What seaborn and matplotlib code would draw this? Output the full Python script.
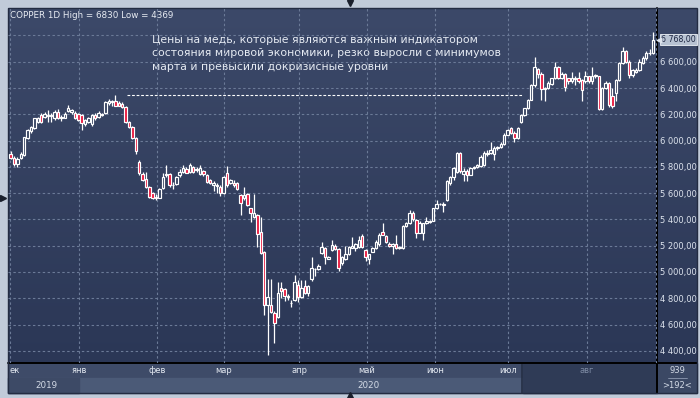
import numpy as np
import pandas as pd
import matplotlib
matplotlib.use("Agg")
import matplotlib.pyplot as plt
import matplotlib.transforms as mtransforms
from matplotlib.colors import LinearSegmentedColormap
from matplotlib.patches import Rectangle
import seaborn as sns

# daily candles, Dec 2019 .. Aug 2020
opens = [5900, 5870, 5820, 5870, 5890, 6020, 6070, 6095, 6140, 6195,
         6180, 6185, 6185, 6170, 6220, 6170, 6175, 6225, 6215, 6210,
         6200, 6195, 6125, 6140, 6125, 6195, 6180, 6195, 6210, 6285,
         6295, 6300, 6285, 6280, 6255, 6140, 6100, 6020, 5835, 5745,
         5705, 5645, 5600, 5570, 5565, 5640, 5735, 5745, 5660, 5670,
         5735, 5760, 5785, 5760, 5800, 5775, 5745, 5765, 5735, 5700,
         5665, 5665, 5650, 5600, 5750, 5680, 5680, 5675, 5585, 5560,
         5590, 5485, 5420, 5430, 5305, 5150, 4750, 4750, 4685, 4655,
         4880, 4870, 4810, 4760, 4785, 4900, 4810, 4895, 4840, 4945,
         5020, 5025, 5145, 5180, 5100, 5165, 5195, 5175, 5070, 5100,
         5140, 5185, 5185, 5190, 5270, 5165, 5100, 5155, 5180, 5210,
         5305, 5270, 5215, 5200, 5215, 5180, 5180, 5350, 5370, 5450,
         5395, 5300, 5300, 5370, 5380, 5390, 5485, 5515, 5520, 5545,
         5675, 5720, 5760, 5905, 5745, 5770, 5740, 5790, 5800, 5805,
         5815, 5895, 5905, 5895, 5940, 5950, 5975, 6045, 6095, 6060,
         6020, 6140, 6195, 6245, 6310, 6420, 6545, 6510, 6390, 6400,
         6430, 6475, 6560, 6475, 6510, 6475, 6450, 6470, 6475, 6460,
         6450, 6490, 6450, 6495, 6490, 6240, 6400, 6440, 6340, 6360,
         6460, 6590, 6680, 6600, 6500, 6525, 6540, 6590, 6625, 6665,
         6670]
highs = [5920, 5880, 5875, 5910, 6030, 6090, 6110, 6175, 6180, 6210,
         6215, 6230, 6210, 6235, 6240, 6195, 6215, 6270, 6240, 6225,
         6210, 6200, 6165, 6180, 6205, 6210, 6225, 6210, 6300, 6320,
         6310, 6345, 6300, 6290, 6265, 6150, 6110, 6030, 5850, 5760,
         5760, 5655, 5610, 5590, 5640, 5750, 5815, 5755, 5685, 5730,
         5780, 5815, 5800, 5830, 5810, 5800, 5815, 5775, 5745, 5710,
         5690, 5675, 5660, 5730, 5810, 5710, 5700, 5685, 5590, 5650,
         5600, 5490, 5590, 5440, 5420, 5160, 4945, 4945, 4700, 4925,
         4920, 4880, 4830, 4790, 4975, 4940, 4940, 4940, 4900, 5115,
         5030, 5060, 5230, 5190, 5120, 5245, 5210, 5180, 5120, 5200,
         5195, 5265, 5220, 5275, 5290, 5175, 5140, 5190, 5240, 5295,
         5370, 5280, 5225, 5220, 5280, 5195, 5355, 5380, 5470, 5465,
         5400, 5385, 5375, 5420, 5395, 5490, 5550, 5525, 5530, 5700,
         5730, 5800, 5910, 5910, 5790, 5780, 5800, 5810, 5825, 5890,
         5920, 5930, 5990, 5955, 5960, 5990, 6055, 6090, 6100, 6075,
         6100, 6205, 6250, 6320, 6430, 6635, 6555, 6520, 6410, 6450,
         6480, 6600, 6570, 6520, 6515, 6480, 6520, 6490, 6520, 6470,
         6530, 6495, 6560, 6510, 6495, 6410, 6450, 6445, 6400, 6470,
         6600, 6710, 6690, 6610, 6545, 6550, 6620, 6640, 6680, 6700,
         6830]
lows = [5860, 5810, 5800, 5860, 5880, 6010, 6060, 6090, 6130, 6130,
        6175, 6140, 6140, 6160, 6165, 6150, 6170, 6215, 6205, 6165,
        6150, 6080, 6110, 6130, 6110, 6160, 6170, 6190, 6205, 6270,
        6260, 6260, 6260, 6250, 6135, 6095, 6015, 5900, 5740, 5690,
        5640, 5565, 5555, 5545, 5560, 5630, 5720, 5650, 5630, 5660,
        5725, 5750, 5750, 5750, 5750, 5760, 5740, 5730, 5680, 5670,
        5615, 5600, 5575, 5595, 5650, 5670, 5650, 5625, 5430, 5550,
        5500, 5380, 5410, 5190, 5140, 4670, 4369, 4690, 4460, 4650,
        4800, 4780, 4790, 4735, 4780, 4770, 4800, 4830, 4820, 4930,
        4970, 5015, 5135, 5060, 5095, 5160, 5170, 5010, 5050, 5090,
        5130, 5180, 5160, 5185, 5180, 5080, 5060, 5150, 5175, 5200,
        5280, 5220, 5190, 5140, 5175, 5175, 5178, 5340, 5365, 5390,
        5260, 5295, 5240, 5365, 5370, 5385, 5480, 5510, 5460, 5540,
        5660, 5700, 5750, 5750, 5690, 5690, 5735, 5780, 5790, 5800,
        5810, 5880, 5895, 5850, 5930, 5945, 5970, 6040, 6050, 5990,
        6015, 6135, 6190, 6240, 6305, 6410, 6480, 6310, 6300, 6395,
        6420, 6470, 6470, 6465, 6380, 6430, 6440, 6420, 6440, 6300,
        6440, 6440, 6430, 6480, 6235, 6235, 6390, 6255, 6250, 6300,
        6450, 6580, 6590, 6480, 6485, 6515, 6530, 6580, 6615, 6650,
        6660]
closes = [5870, 5820, 5860, 5900, 6025, 6080, 6100, 6170, 6170, 6140,
          6200, 6195, 6195, 6220, 6170, 6180, 6200, 6250, 6230, 6170,
          6160, 6135, 6155, 6170, 6195, 6170, 6210, 6205, 6295, 6300,
          6300, 6265, 6265, 6255, 6140, 6100, 6020, 5920, 5750, 5700,
          5645, 5570, 5560, 5560, 5630, 5720, 5745, 5660, 5665, 5720,
          5760, 5790, 5755, 5815, 5760, 5785, 5790, 5745, 5685, 5680,
          5680, 5655, 5600, 5720, 5660, 5700, 5665, 5630, 5525, 5585,
          5510, 5450, 5450, 5290, 5145, 4750, 4810, 4695, 4610, 4840,
          4855, 4820, 4820, 4765, 4925, 4810, 4880, 4840, 4895, 5030,
          5020, 5045, 5190, 5115, 5115, 5205, 5175, 5030, 5110, 5140,
          5190, 5195, 5210, 5245, 5190, 5110, 5135, 5180, 5225, 5280,
          5280, 5230, 5195, 5215, 5180, 5190, 5350, 5370, 5450, 5400,
          5300, 5370, 5370, 5390, 5390, 5485, 5520, 5520, 5510, 5690,
          5720, 5790, 5905, 5770, 5770, 5740, 5790, 5800, 5815, 5875,
          5905, 5905, 5930, 5945, 5950, 5975, 6045, 6080, 6055, 6020,
          6095, 6195, 6245, 6310, 6420, 6560, 6510, 6390, 6400, 6440,
          6475, 6560, 6475, 6510, 6410, 6450, 6475, 6475, 6450, 6385,
          6490, 6450, 6495, 6500, 6240, 6400, 6440, 6270, 6260, 6460,
          6590, 6680, 6600, 6500, 6535, 6540, 6600, 6625, 6665, 6670,
          6768]

# month ticks (candle index of the first trading day)
month_labels = ["янв", "фев", "мар", "апр", "май", "июн", "июл", "авг"]
month_pos = [20.2, 43.3, 63.1, 85.3, 105.4, 125.5, 147.1, 170.5]
dec_pos, sep_pos = -0.2, 191.0
price_levels = list(range(4400, 6801, 200))

# pre-crisis level marked with a dashed line
resistance_level = 6345
resistance_span = [34.4, 151.3]

note_lines = ["Цены на медь, которые являются важным индикатором",
              "состояния мировой экономики, резко выросли с минимумов",
              "марта и превысили докризисные уровни"]

df = pd.DataFrame({"open": opens, "high": highs, "low": lows, "close": closes})
df["idx"] = np.arange(len(df))
df["up"] = df["close"] >= df["open"]

sns.set_theme(style="dark")
plt.rcParams["font.family"] = ["DejaVu Sans"]

RED = "#e8163c"
HOLLOW = "#34415f"
TXT = "#e4e9f1"
DIM = "#7d8aa3"
FS = 6.0

fig = plt.figure(figsize=(7, 3.98), dpi=100)
fig.patch.set_facecolor("#c1cbd9")

# background layer in pixel coordinates
bg = fig.add_axes([0, 0, 1, 1], zorder=0)
bg.set_xlim(0, 700)
bg.set_ylim(398, 0)
bg.axis("off")

grad = np.linspace(0, 1, 256).reshape(-1, 1)
cmap = LinearSegmentedColormap.from_list("panel", ["#3c4969", "#2b3756"])
bg.imshow(grad, cmap=cmap, extent=(8, 697, 363, 8), aspect="auto", zorder=0)

bg.add_patch(Rectangle((8, 363), 649, 15, color="#3e4b68", zorder=1))
bg.add_patch(Rectangle((8, 378), 649, 15, color="#4b5a77", zorder=1))
bg.add_patch(Rectangle((8, 378), 71, 15, color="#3d4a66", zorder=1))
bg.text(9, 370.5, "ек", color=TXT, fontsize=FS, ha="left", va="center", zorder=2)
bg.text(656, 370.5, "се", color=DIM, fontsize=FS, ha="right", va="center", zorder=2)
bg.add_patch(Rectangle((523, 363), 134, 30, color="#2f3b56", zorder=3))
bg.plot([522, 522], [363, 393], color="#252f45", lw=1.2, zorder=4)
bg.text(587, 370.5, "авг", color=DIM, fontsize=FS, ha="center", va="center", zorder=4)
bg.text(46, 385.5, "2019", color="#d3dae6", fontsize=6.3, ha="center", va="center", zorder=2)
bg.text(369, 385.5, "2020", color="#d3dae6", fontsize=6.3, ha="center", va="center", zorder=2)

bg.add_patch(Rectangle((657, 363), 40, 30, color="#3b4864", zorder=3))
bg.text(677, 370.5, "939", color="#d3dae6", fontsize=FS, ha="center", va="center", zorder=4)
bg.text(677, 385.5, ">192<", color="#d3dae6", fontsize=FS, ha="center", va="center", zorder=4)
bg.plot([668, 687], [377.5, 377.5], color="#8d99b0", lw=0.6, zorder=4)

bg.plot([8, 697], [363, 363], color="black", lw=1.4, zorder=5)
bg.plot([657, 657], [8, 393], color="black", lw=1.4, zorder=5)
bg.add_patch(Rectangle((8, 8), 689, 385, fill=False, ec="#232c42", lw=1.0, zorder=5))

for mx, my, mk in [(3, 198, ">"), (350, 3, "v"), (350, 395, "^")]:
    bg.plot(mx, my, marker=mk, ms=4, color="#1a1f2c", zorder=6)

bg.text(10, 15.5, f"COPPER 1D High = {max(highs)} Low = {min(lows)}",
        color="#e8ecf3", fontsize=6.3, ha="left", va="center", zorder=6)
for k, line in enumerate(note_lines):
    bg.text(152, 40 + 13.5 * k, line, color="#e6ebf3", fontsize=7.8,
            ha="left", va="center", zorder=6)

# price chart
ax = fig.add_axes([8 / 700, 35 / 398, 649 / 700, 355 / 398], zorder=1)
ax.set_facecolor("none")
ax.set_xlim(-0.8, 191.2)
ax.set_ylim(4307, 7009)

ax.set_yticks(price_levels)
ax.set_yticklabels([f"{v:,}".replace(",", " ") + ",00" if v < 6800 else ""
                    for v in price_levels])
ax.yaxis.tick_right()
ax.set_xticks([dec_pos] + month_pos + [sep_pos])
ax.set_xticklabels([""] + month_labels + [""])
ax.tick_params(axis="y", length=0, pad=1.8, labelsize=FS, labelcolor="#dde3ed")
ax.tick_params(axis="x", length=0, pad=2.2, labelsize=FS, labelcolor=TXT)
for lab in ax.get_xticklabels():
    if lab.get_text() == "авг":
        lab.set_visible(False)
ax.grid(True, color="#6b7a97", linestyle=(0, (2.2, 2.2)), linewidth=0.8)
for s in ax.spines.values():
    s.set_visible(False)

ax.vlines(df["idx"], df["low"], df["high"], color="white", lw=0.9, zorder=2)
body_h = (df["close"] - df["open"]).abs().clip(lower=2)
body_b = df[["open", "close"]].min(axis=1)
ax.bar(df["idx"], body_h, bottom=body_b, width=0.72,
       color=np.where(df["up"], HOLLOW, RED), edgecolor="white",
       linewidth=0.85, zorder=3)

res = pd.DataFrame({"x": resistance_span, "y": [resistance_level] * 2})
sns.lineplot(data=res, x="x", y="y", ax=ax, color="white", lw=0.8,
             linestyle=(0, (2.5, 1.6)), zorder=2)
ax.set_xlabel("")
ax.set_ylabel("")

trans = mtransforms.blended_transform_factory(ax.transAxes, ax.transData)
last = closes[-1]
ax.text(1 + 4 / 649, last, f"{last:,}".replace(",", " ") + ",00", transform=trans,
        ha="left", va="center", fontsize=5.7, color="#1d2642", clip_on=False,
        bbox=dict(boxstyle="square,pad=0.12", fc="#b7c2d2", ec="#eef2f7", lw=0.6),
        zorder=6)
ax.plot(1 + 2.2 / 649, last, marker="<", ms=3.2, color="#dfe5ee",
        transform=trans, clip_on=False, zorder=6)

fig.savefig("out.png", dpi=100, facecolor=fig.get_facecolor())
